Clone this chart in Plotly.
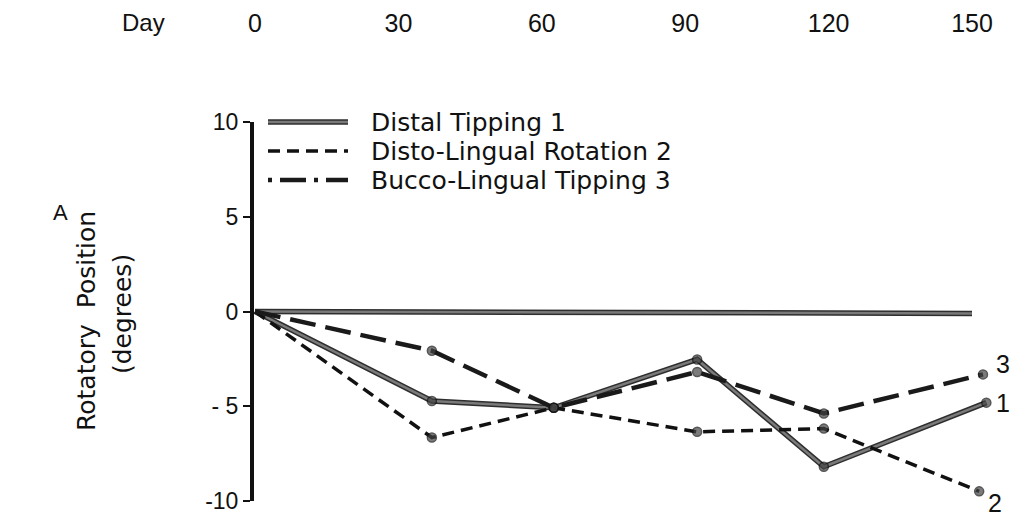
import plotly.graph_objects as go

# ---- data ----
day_ticks = [0, 30, 60, 90, 120, 150]
y_ticks = [-10, -5, 0, 5, 10]
y_ticktext = ["-10", "- 5", "0", "5", "10"]

baseline_days = [0, 150]
baseline_vals = [0, -0.1]

distal_days = [0, 37, 62.5, 92.5, 119, 153]
distal_vals = [0, -4.72, -5.08, -2.53, -8.19, -4.81]

disto_days = [0, 37, 62.5, 92.5, 119, 151.5]
disto_vals = [0, -6.65, -5.08, -6.35, -6.18, -9.49]

bucco_days = [0, 37, 62.5, 92.5, 119, 152.3]
bucco_vals = [0, -2.07, -5.08, -3.19, -5.38, -3.32]

series_names = ["Distal Tipping 1", "Disto-Lingual Rotation 2", "Bucco-Lingual Tipping 3"]
end_labels = ["1", "2", "3"]

# ---- layout geometry ----
W, H = 1012, 522
ML, MR, MT, MB = 254, 12, 122, 21
PW, PH = W - ML - MR, H - MT - MB
PXPD = 4.78
X0 = -1 / PXPD
X1 = X0 + PW / PXPD

OUT = "#2e2e2e"
INN = "#7a7a7a"


def px(x):
    return (x - ML) / PW


def py(y):
    return (H - MB - y) / PH


def msizes(n):
    return [0] + [9] * (n - 1)


fig = go.Figure()

# baseline (double gray look)
fig.add_trace(go.Scatter(x=baseline_days, y=baseline_vals, mode="lines",
                         line=dict(color=OUT, width=5.5), showlegend=False, hoverinfo="skip"))
fig.add_trace(go.Scatter(x=baseline_days, y=baseline_vals, mode="lines",
                         line=dict(color=INN, width=2.5), showlegend=False, hoverinfo="skip"))

# distal tipping
fig.add_trace(go.Scatter(x=distal_days, y=distal_vals, mode="lines",
                         line=dict(color=OUT, width=5.5), showlegend=False, hoverinfo="skip"))
fig.add_trace(go.Scatter(x=distal_days, y=distal_vals, mode="lines+markers",
                         line=dict(color=INN, width=2.5), name=series_names[0],
                         marker=dict(size=msizes(len(distal_days)), color="#444",
                                     line=dict(color="#111", width=1.5)),
                         showlegend=False, cliponaxis=False))

# disto-lingual rotation
fig.add_trace(go.Scatter(x=disto_days, y=disto_vals, mode="lines+markers",
                         line=dict(color="#111", width=3.5, dash="12px,7px"), name=series_names[1],
                         marker=dict(size=msizes(len(disto_days)), color="#444",
                                     line=dict(color="#111", width=1.5)),
                         showlegend=False, cliponaxis=False))

# bucco-lingual tipping
fig.add_trace(go.Scatter(x=bucco_days, y=bucco_vals, mode="lines+markers",
                         line=dict(color="#1a1a1a", width=4.5, dash="26px,10px"), name=series_names[2],
                         marker=dict(size=msizes(len(bucco_days)), color="#444",
                                     line=dict(color="#111", width=1.5)),
                         showlegend=False, cliponaxis=False))

# ---- manual legend ----
shapes = []
leg_y = [122, 151, 180]
lx0, lx1 = 268, 348
shapes.append(dict(type="line", xref="paper", yref="paper", x0=px(lx0), x1=px(lx1),
                   y0=py(leg_y[0]), y1=py(leg_y[0]), line=dict(color=OUT, width=5.5)))
shapes.append(dict(type="line", xref="paper", yref="paper", x0=px(lx0), x1=px(lx1),
                   y0=py(leg_y[0]), y1=py(leg_y[0]), line=dict(color=INN, width=2.5)))
shapes.append(dict(type="line", xref="paper", yref="paper", x0=px(lx0), x1=px(lx1),
                   y0=py(leg_y[1]), y1=py(leg_y[1]), line=dict(color="#111", width=3.5, dash="12px,7px")))
shapes.append(dict(type="line", xref="paper", yref="paper", x0=px(lx0), x1=px(lx1),
                   y0=py(leg_y[2]), y1=py(leg_y[2]), line=dict(color="#1a1a1a", width=4.5, dash="4px,8px,26px,8px")))

annotations = []
for name, yy in zip(series_names, leg_y):
    annotations.append(dict(text=name, xref="paper", yref="paper", x=px(369), y=py(yy),
                            xanchor="left", yanchor="middle", showarrow=False,
                            font=dict(family="DejaVu Sans", size=25, color="#111")))

# end labels
annotations.append(dict(text=end_labels[0], xref="x", yref="y", x=distal_days[-1], y=distal_vals[-1],
                        xshift=17, showarrow=False, font=dict(family="Liberation Sans", size=25, color="#111")))
annotations.append(dict(text=end_labels[1], xref="x", yref="y", x=disto_days[-1], y=disto_vals[-1],
                        xshift=16, yshift=-12, showarrow=False, font=dict(family="Liberation Sans", size=25, color="#111")))
annotations.append(dict(text=end_labels[2], xref="x", yref="y", x=bucco_days[-1], y=bucco_vals[-1],
                        xshift=20, yshift=10, showarrow=False, font=dict(family="Liberation Sans", size=25, color="#111")))

# axis titles / labels
annotations.append(dict(text="Day", xref="paper", yref="paper", x=px(143), y=py(22),
                        xanchor="center", yanchor="middle",
                        showarrow=False, font=dict(family="Liberation Sans", size=24, color="#111")))
annotations.append(dict(text="A", xref="paper", yref="paper", x=px(60), y=py(212),
                        xanchor="center", yanchor="middle",
                        showarrow=False, font=dict(family="Liberation Sans", size=22, color="#111")))
annotations.append(dict(text="Rotatory  Position", xref="paper", yref="paper", x=px(86), y=py(321),
                        xanchor="center", yanchor="middle",
                        textangle=-90, showarrow=False, font=dict(family="DejaVu Sans", size=25, color="#111")))
annotations.append(dict(text="(degrees)", xref="paper", yref="paper", x=px(122), y=py(314),
                        xanchor="center", yanchor="middle",
                        textangle=-90, showarrow=False, font=dict(family="DejaVu Sans", size=25, color="#111")))

fig.update_layout(
    template="none",
    width=W, height=H,
    margin=dict(l=ML, r=MR, t=MT, b=MB),
    paper_bgcolor="white", plot_bgcolor="white",
    showlegend=False,
    shapes=shapes, annotations=annotations,
    xaxis=dict(range=[X0, X1], side="top", tickvals=day_ticks, automargin=False,
               ticktext=[str(d) for d in day_ticks], showgrid=False, zeroline=False,
               showline=False, ticks="", ticklabelstandoff=84,
               tickfont=dict(family="Liberation Sans", size=25, color="#111")),
    yaxis=dict(range=[-10, 10], tickvals=y_ticks, ticktext=y_ticktext, automargin=False,
               showgrid=False, zeroline=False, showline=True, linewidth=4, linecolor="#111",
               ticks="outside", ticklen=7, tickwidth=2, tickcolor="#111",
               tickfont=dict(family="Liberation Sans", size=23, color="#111")),
)

fig.write_html("out.html")
